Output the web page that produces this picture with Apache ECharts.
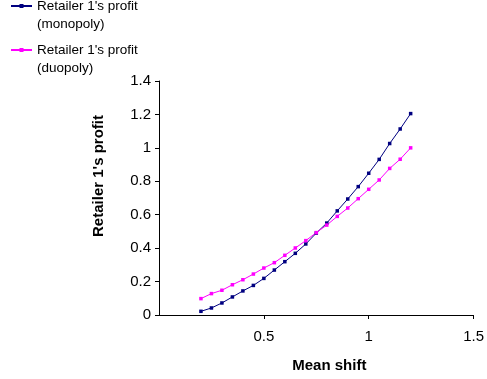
<!DOCTYPE html>
<html>
<head>
<meta charset="utf-8">
<script src="https://cdn.jsdelivr.net/npm/echarts@6/dist/echarts.min.js"></script>
<style>html,body{margin:0;padding:0;background:#fff}#c{width:487px;height:379px}</style>
</head>
<body>
<div id="c"></div>
<script>
const meanShift = [0.2, 0.25, 0.3, 0.35, 0.4, 0.45, 0.5, 0.55, 0.6, 0.65, 0.7, 0.75, 0.8, 0.85, 0.9, 0.95, 1.0, 1.05, 1.1, 1.15, 1.2];
const monopolyProfit = [0.022, 0.042, 0.072, 0.108, 0.144, 0.177, 0.219, 0.269, 0.319, 0.369, 0.425, 0.49, 0.55, 0.623, 0.694, 0.768, 0.848, 0.931, 1.026, 1.113, 1.205];
const duopolyProfit = [0.098, 0.128, 0.148, 0.181, 0.211, 0.245, 0.281, 0.313, 0.357, 0.401, 0.445, 0.493, 0.538, 0.590, 0.640, 0.696, 0.752, 0.808, 0.877, 0.932, 1.0];
const seriesNames = ["Retailer 1's profit (monopoly)", "Retailer 1's profit (duopoly)"];
const xTicks = { min: 0, max: 1.5, interval: 0.5 };
const yTicks = { min: 0, max: 1.4, interval: 0.2 };
const xTitle = 'Mean shift';
const yTitle = "Retailer 1's profit";

const font = 'Liberation Sans, Arial, sans-serif';
const chart = echarts.init(document.getElementById('c'), null, { renderer: 'canvas' });
const legendBase = {
  orient: 'vertical', left: 10, padding: 0, itemWidth: 21, itemHeight: 5, itemGap: 5,
  formatter: n => '\n' + n.replace(' (', '\n('),
  textStyle: { fontFamily: font, fontSize: 13.5, color: '#000', lineHeight: 18 },
  selectedMode: false
};
chart.setOption({
  animation: false,
  backgroundColor: '#fff',
  legend: [
    Object.assign({}, legendBase, { top: -21, data: [seriesNames[0]] }),
    Object.assign({}, legendBase, { top: 23, data: [seriesNames[1]] })
  ],
  grid: { left: 159, right: 11, top: 81, bottom: 64 },
  xAxis: {
    type: 'value', min: xTicks.min, max: xTicks.max, interval: xTicks.interval,
    name: xTitle, nameLocation: 'middle', nameGap: 43,
    nameTextStyle: { fontFamily: font, fontSize: 15, fontWeight: 'bold', color: '#000', padding: [0, 0, 0, 26] },
    axisLine: { lineStyle: { color: '#000', width: 1 } },
    axisTick: { show: true, length: 4, lineStyle: { color: '#000' } },
    axisLabel: { showMinLabel: false, fontFamily: font, fontSize: 15, color: '#000', margin: 14 },
    splitLine: { show: false }
  },
  yAxis: {
    type: 'value', min: yTicks.min, max: yTicks.max, interval: yTicks.interval,
    name: yTitle, nameLocation: 'middle', nameGap: 53,
    nameTextStyle: { fontFamily: font, fontSize: 15, fontWeight: 'bold', color: '#000', padding: [0, 0, 0, 44] },
    axisLine: { show: true, lineStyle: { color: '#000', width: 1 } },
    axisTick: { show: true, length: 4, lineStyle: { color: '#000' } },
    axisLabel: { fontFamily: font, fontSize: 15, color: '#000', margin: 8 },
    splitLine: { show: false }
  },
  series: [
    {
      name: seriesNames[0], type: 'line', symbol: 'rect', symbolSize: 3.5,
      data: meanShift.map((x, i) => [x, monopolyProfit[i]]),
      lineStyle: { color: '#000080', width: 1 }, itemStyle: { color: '#000080' }
    },
    {
      name: seriesNames[1], type: 'line', symbol: 'rect', symbolSize: 3.5,
      data: meanShift.map((x, i) => [x, duopolyProfit[i]]),
      lineStyle: { color: '#FF00FF', width: 1 }, itemStyle: { color: '#FF00FF' }
    }
  ]
});
</script>
</body>
</html>
